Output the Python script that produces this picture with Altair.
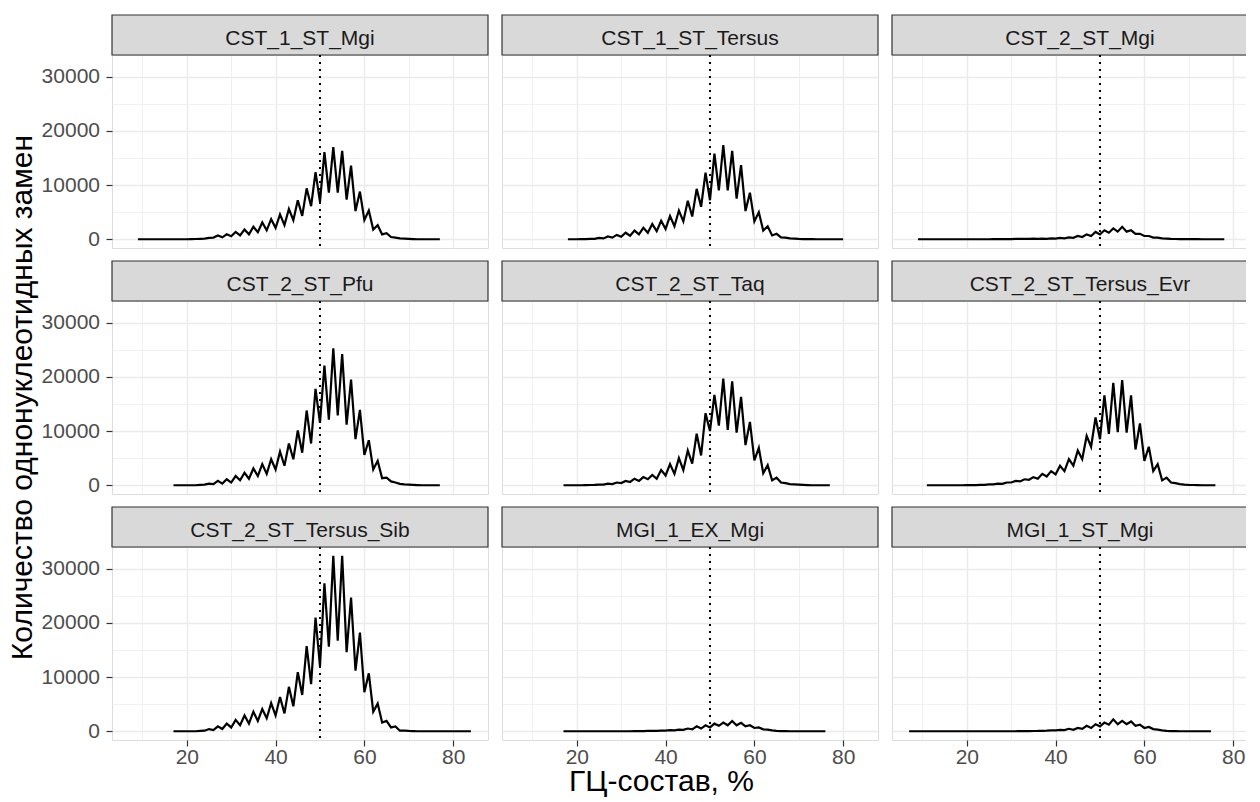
import altair as alt
import pandas as pd

FONT = "Liberation Sans"

panels = ["CST_1_ST_Mgi", "CST_1_ST_Tersus", "CST_2_ST_Mgi",
          "CST_2_ST_Pfu", "CST_2_ST_Taq", "CST_2_ST_Tersus_Evr",
          "CST_2_ST_Tersus_Sib", "MGI_1_EX_Mgi", "MGI_1_ST_Mgi"]

# first GC value (%) of each panel's series
gc_start = [9, 18, 9, 17, 17, 11, 17, 17, 7]

cst_1_st_mgi = [0, 0, 0, 0, 0, 0, 0, 0, 0, 0, 0, 0,
                20, 40, 80, 100, 250, 300, 700, 350, 900, 550,
                1350, 700, 1800, 900, 2300, 1300, 3100, 1650, 3700, 2100,
                4600, 2600, 5600, 3500, 7200, 4300, 9400, 6100, 12400, 6900,
                16100, 8600, 17000, 8600, 16300, 7300, 13600, 5200, 8800, 3550,
                5300, 1800, 2600, 900, 1100, 400, 300, 150, 100, 60,
                30, 0, 0, 0, 0, 0, 0]
cst_1_st_tersus = [0, 0, 0,
                   10, 30, 50, 80, 250, 150, 500, 300, 800, 450,
                   1200, 650, 1600, 900, 2100, 1200, 2800, 1500, 3400, 1900,
                   4300, 2400, 5300, 3300, 7100, 4200, 9300, 6000, 12300, 7200,
                   15800, 9000, 17400, 9000, 16300, 7500, 13700, 5200, 8600, 3300,
                   5000, 1600, 2400, 700, 1000, 350, 300, 150, 100, 50,
                   30, 20, 10, 0, 0, 0, 0, 0, 0, 0]
cst_2_st_mgi = [0, 0, 0, 0, 0, 0, 0, 0, 0, 0, 0, 0,
                0, 0, 0, 0, 0, 10, 10, 20, 20, 30,
                60, 50, 80, 60, 100, 70, 120, 80, 150, 100,
                250, 150, 350, 250, 600, 400, 900, 600, 1350, 900,
                1650, 1200, 2000, 1400, 2300, 1400, 1650, 1000, 1000, 600,
                600, 300, 300, 150, 120, 60, 40, 30, 20, 20,
                10, 10, 0, 0, 0, 0, 0, 0]
cst_2_st_pfu = [0, 0, 0, 0,
                0, 0, 50, 100, 300, 200, 800, 300, 1100, 500,
                1700, 900, 2300, 1200, 3100, 1700, 3900, 2100, 4800, 2900,
                6200, 3600, 7700, 4800, 10100, 6000, 13800, 7700, 17800, 11500,
                22100, 12100, 25300, 12900, 24200, 11200, 19500, 8500, 13900, 5600,
                8300, 2900, 4500, 1300, 1400, 700, 500, 250, 150, 100,
                60, 30, 0, 0, 0, 0, 0]
cst_2_st_taq = [0, 0, 0, 0,
                0, 20, 40, 60, 100, 100, 300, 200, 500, 400,
                800, 600, 1200, 800, 1500, 1100, 1900, 1200, 2800, 1800,
                3900, 2100, 5000, 2800, 6400, 4000, 9500, 5500, 13300, 10000,
                16700, 11000, 19700, 10200, 19200, 9700, 16300, 7400, 11700, 4600,
                6900, 2200, 3700, 900, 1400, 500, 400, 200, 150, 100,
                60, 30, 0, 0, 0, 0, 0]
cst_2_st_tersus_evr = [0, 0, 0, 0, 0, 0, 0, 0, 0, 10,
                       20, 30, 50, 80, 150, 150, 300, 250, 500, 500,
                       800, 700, 1100, 1000, 1500, 1200, 2100, 1600, 2600, 2000,
                       3600, 2600, 4800, 3600, 6400, 4800, 9100, 7100, 12500, 8500,
                       16600, 9500, 18900, 9800, 19400, 9700, 16600, 6600, 11400, 4500,
                       7100, 2600, 3900, 900, 1400, 500, 400, 200, 100, 60,
                       40, 20, 0, 0, 0, 0]
cst_2_st_tersus_sib = [0, 0, 0, 0,
                       0, 0, 50, 100, 400, 200, 900, 400, 1400, 700,
                       2100, 1100, 2900, 1400, 3600, 1900, 4100, 2400, 5200, 2900,
                       6300, 3300, 8200, 4600, 10900, 6700, 15700, 8700, 21000, 12000,
                       27300, 15600, 32400, 16700, 32400, 14600, 24700, 11200, 18200, 7200,
                       10700, 3600, 5100, 1600, 1900, 700, 900, 100, 100, 50,
                       30, 0, 0, 0, 0, 0, 0, 0, 0, 0, 0, 0, 0, 0]
mgi_1_ex_mgi = [0, 0, 0, 0,
                0, 0, 0, 0, 0, 0, 0, 0, 0, 0,
                0, 0, 10, 20, 30, 50, 60, 80, 100, 120,
                200, 150, 300, 250, 500, 350, 900, 500, 1100, 700,
                1400, 1000, 1600, 1100, 1900, 1100, 1550, 900, 1100, 600,
                700, 350, 300, 150, 60, 20, 10, 0, 0, 0,
                0, 0, 0, 0, 0, 0]
mgi_1_st_mgi = [0, 0, 0, 0, 0, 0, 0, 0, 0, 0, 0, 0, 0, 0,
                0, 0, 0, 0, 0, 0, 0, 0, 0, 0,
                0, 10, 20, 30, 40, 50, 80, 100, 150, 150,
                250, 200, 450, 250, 600, 450, 1000, 600, 1300, 900,
                1600, 1200, 2200, 1300, 1900, 1300, 1800, 1000, 1200, 600,
                800, 400, 300, 150, 60, 20, 10, 0, 0, 0,
                0, 0, 0, 0, 0]

series = [cst_1_st_mgi, cst_1_st_tersus, cst_2_st_mgi,
          cst_2_st_pfu, cst_2_st_taq, cst_2_st_tersus_evr,
          cst_2_st_tersus_sib, mgi_1_ex_mgi, mgi_1_st_mgi]

x_ticks = [20, 40, 60, 80]
x_minor = [10, 30, 50, 70]
y_ticks = [0, 10000, 20000, 30000]
y_minor = [5000, 15000, 25000]
ref_gc = 50

rows = []
for name, start, vals in zip(panels, gc_start, series):
    for i, v in enumerate(vals):
        rows.append({"panel": name, "gc": start + i, "n": v})
df = pd.DataFrame(rows)

W, H, STRIP = 376, 193, 40
xscale = alt.Scale(domain=[3.15, 87.85], nice=False, zero=False)
yscale = alt.Scale(domain=[-1620, 34020], nice=False, zero=False)

GRID = "#EBEBEB"
TXT = "#4D4D4D"
BORDER = "#333333"


def panel(idx, name):
    r, c = divmod(idx, 3)
    bottom = r == 2
    left = c == 0
    sub = df[df.panel == name]
    sdf = pd.DataFrame({"panel": [name]})

    xkw = dict(values=x_ticks, grid=True, gridColor=GRID, gridWidth=1.4, domain=False,
               labels=bottom, ticks=bottom, tickSize=6, tickColor=BORDER, tickWidth=1.2,
               labelFontSize=21, labelColor=TXT, labelPadding=0, labelFont=FONT)
    if idx == 7:
        xkw.update(title="ГЦ-состав, %", titleFontSize=30, titleFont=FONT,
                   titleFontWeight="normal", titleColor="black", titleX=159, titleY=50,
                   titleAlign="center", titleBaseline="alphabetic")
    else:
        xkw["title"] = None
    ykw = dict(values=y_ticks, grid=True, gridColor=GRID, gridWidth=1.4, domain=False,
               labels=left, ticks=left, tickSize=6, tickColor=BORDER, tickWidth=1.2,
               labelFontSize=21, labelColor=TXT, labelPadding=6.5, labelFont=FONT,
               format="d")
    if idx == 3:
        ykw.update(title="Количество однонуклеотидных замен", titleFontSize=30,
                   titleFont=FONT, titleFontWeight="normal", titleColor="black",
                   titleAngle=270, titleX=-80.5, titleY=H / 2 - 0.5,
                   titleAlign="center", titleBaseline="alphabetic")
    else:
        ykw["title"] = None

    minor = alt.Chart(sub).mark_line(strokeOpacity=0).encode(
        x=alt.X("gc:Q", scale=xscale,
                axis=alt.Axis(orient="top", values=x_minor, grid=True, gridColor=GRID,
                              gridWidth=0.7, labels=False, ticks=False, domain=False,
                              title=None)),
        y=alt.Y("n:Q", scale=yscale,
                axis=alt.Axis(orient="right", values=y_minor, grid=True, gridColor=GRID,
                              gridWidth=0.7, labels=False, ticks=False, domain=False,
                              title=None)),
    )
    strip = alt.Chart(sdf).mark_rect(fill="#D9D9D9", stroke=BORDER, strokeWidth=1.2).encode(
        x=alt.value(0), x2=alt.value(W), y=alt.value(-STRIP), y2=alt.value(0))
    label = alt.Chart(sdf).mark_text(fontSize=21, color="#1A1A1A", font=FONT,
                                     align="center", baseline="alphabetic").encode(
        x=alt.value(W / 2), y=alt.value(-10.5), text="panel:N")
    vline = alt.Chart(sdf).mark_rule(color="black", strokeDash=[2, 5], strokeWidth=2).encode(
        x=alt.XDatum(ref_gc, axis=None))
    line = alt.Chart(sub).mark_line(color="black", strokeWidth=2.2).encode(
        x=alt.X("gc:Q", scale=xscale, axis=alt.Axis(orient="bottom", **xkw)),
        y=alt.Y("n:Q", scale=yscale, axis=alt.Axis(orient="left", **ykw)),
    )
    return alt.layer(minor, strip, label, vline, line).resolve_axis(
        x="independent", y="independent").properties(width=W, height=H)


charts = [panel(i, n) for i, n in enumerate(panels)]

chart = alt.concat(*charts, columns=3, spacing={"row": 53, "column": 14}, bounds="flush",
                   padding={"left": -2, "top": 5, "right": -24, "bottom": 0},
                   background="white").configure_view(
    stroke=BORDER, strokeWidth=1.2).configure(font=FONT)

chart.save("out.html", embed_options={"renderer": "svg", "actions": False})
